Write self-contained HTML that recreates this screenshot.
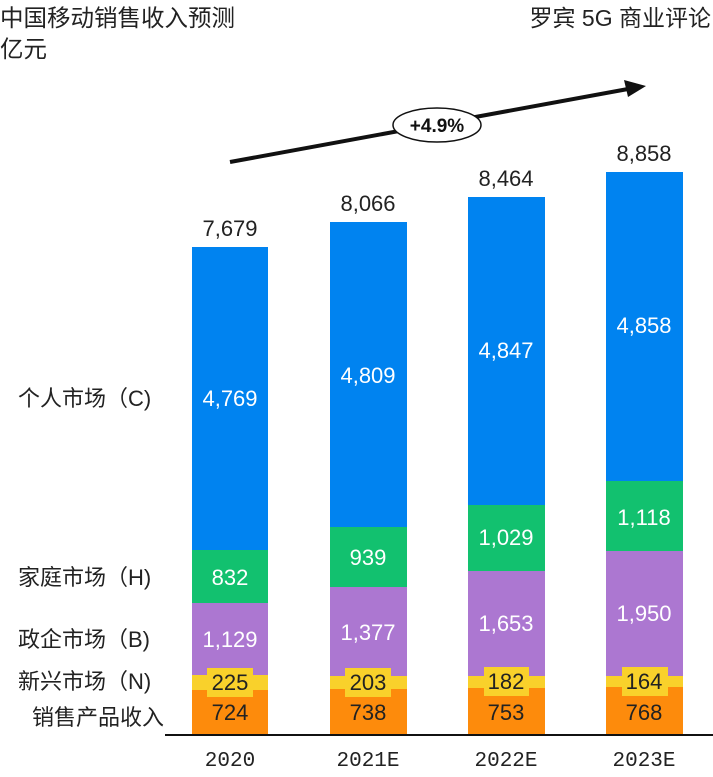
<!DOCTYPE html><html><head><meta charset="utf-8"><style>body{margin:0;background:#fff}</style></head><body>
<svg width="713" height="772" xmlns="http://www.w3.org/2000/svg" font-family="Liberation Sans, Noto Sans CJK SC, sans-serif">
<text x="0" y="26" font-size="23.5" fill="#222">中国移动销售收入预测</text>
<text x="0" y="57" font-size="23.5" fill="#222">亿元</text>
<text x="711" y="26" font-size="23" fill="#222" text-anchor="end">罗宾 5G 商业评论</text>
<line x1="230" y1="162" x2="628" y2="89" stroke="#111" stroke-width="4"/>
<polygon points="646,86 624,80 628,97" fill="#111"/>
<ellipse cx="437" cy="125" rx="44" ry="17" fill="#fff" stroke="#111" stroke-width="1.5"/>
<text x="437" y="132" font-size="19" font-weight="bold" text-anchor="middle" fill="#111">+4.9%</text>
<g font-size="22" text-anchor="middle">
<rect x="192" y="247" width="76" height="303" fill="#0083f0"/>
<rect x="192" y="550" width="76" height="53" fill="#12c16f"/>
<rect x="192" y="603" width="76" height="72" fill="#ac77d1"/>
<rect x="192" y="675" width="76" height="15" fill="#f9d12b"/>
<rect x="192" y="690" width="76" height="45" fill="#fd8b0c"/>
<rect x="207" y="668" width="46" height="29" fill="#f9d12b"/>
<text x="230" y="236" fill="#222">7,679</text>
<text x="230" y="406" fill="#fff">4,769</text>
<text x="230" y="585" fill="#fff">832</text>
<text x="230" y="647" fill="#fff">1,129</text>
<text x="230" y="690" fill="#222">225</text>
<text x="230" y="720" fill="#222">724</text>
<rect x="330" y="222" width="77" height="305" fill="#0083f0"/>
<rect x="330" y="527" width="77" height="60" fill="#12c16f"/>
<rect x="330" y="587" width="77" height="89" fill="#ac77d1"/>
<rect x="330" y="676" width="77" height="13" fill="#f9d12b"/>
<rect x="330" y="689" width="77" height="46" fill="#fd8b0c"/>
<rect x="345" y="668" width="46" height="29" fill="#f9d12b"/>
<text x="368" y="211" fill="#222">8,066</text>
<text x="368" y="383" fill="#fff">4,809</text>
<text x="368" y="565" fill="#fff">939</text>
<text x="368" y="640" fill="#fff">1,377</text>
<text x="368" y="690" fill="#222">203</text>
<text x="368" y="720" fill="#222">738</text>
<rect x="468" y="197" width="77" height="308" fill="#0083f0"/>
<rect x="468" y="505" width="77" height="66" fill="#12c16f"/>
<rect x="468" y="571" width="77" height="105" fill="#ac77d1"/>
<rect x="468" y="676" width="77" height="12" fill="#f9d12b"/>
<rect x="468" y="688" width="77" height="47" fill="#fd8b0c"/>
<rect x="484" y="667" width="45" height="29" fill="#f9d12b"/>
<text x="506" y="186" fill="#222">8,464</text>
<text x="506" y="358" fill="#fff">4,847</text>
<text x="506" y="545" fill="#fff">1,029</text>
<text x="506" y="631" fill="#fff">1,653</text>
<text x="506" y="689" fill="#222">182</text>
<text x="506" y="720" fill="#222">753</text>
<rect x="606" y="172" width="77" height="309" fill="#0083f0"/>
<rect x="606" y="481" width="77" height="70" fill="#12c16f"/>
<rect x="606" y="551" width="77" height="125" fill="#ac77d1"/>
<rect x="606" y="676" width="77" height="11" fill="#f9d12b"/>
<rect x="606" y="687" width="77" height="48" fill="#fd8b0c"/>
<rect x="622" y="667" width="46" height="29" fill="#f9d12b"/>
<text x="644" y="161" fill="#222">8,858</text>
<text x="644" y="333" fill="#fff">4,858</text>
<text x="644" y="525" fill="#fff">1,118</text>
<text x="644" y="621" fill="#fff">1,950</text>
<text x="644" y="689" fill="#222">164</text>
<text x="644" y="720" fill="#222">768</text>
</g>
<line x1="165" y1="735" x2="713" y2="735" stroke="#111" stroke-width="2"/>
<g font-size="21" text-anchor="middle" fill="#222" font-family="Liberation Mono, monospace">
<text x="230" y="766">2020</text><text x="368" y="766">2021E</text><text x="506" y="766">2022E</text><text x="644" y="766">2023E</text>
</g>
<g font-size="22" fill="#222">
<text x="18" y="406">个人市场（C)</text>
<text x="18" y="585">家庭市场（H)</text>
<text x="18" y="647">政企市场（B)</text>
<text x="18" y="689">新兴市场（N)</text>
<text x="32" y="725">销售产品收入</text>
</g>
</svg></body></html>
